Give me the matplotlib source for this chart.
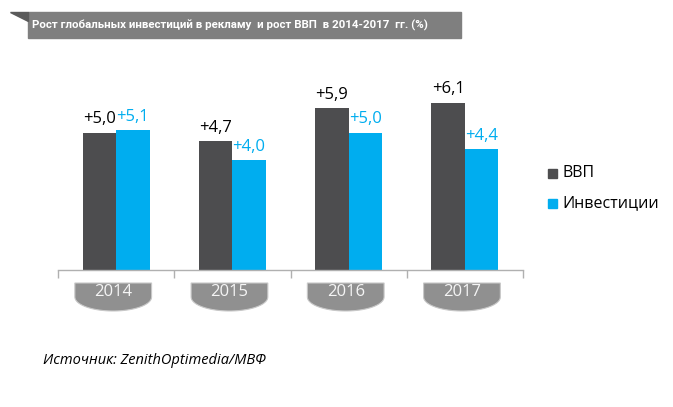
import numpy as np
import matplotlib.pyplot as plt
import matplotlib.patches as mpatches
import matplotlib.transforms as mtransforms

years = ["2014", "2015", "2016", "2017"]
gdp = [5.0, 4.7, 5.9, 6.1]
invest = [5.1, 4.0, 5.0, 4.4]
gdp_labels = ["+5,0", "+4,7", "+5,9", "+6,1"]
invest_labels = ["+5,1", "+4,0", "+5,0", "+4,4"]

title = "Рост глобальных инвестиций в рекламу  и рост ВВП  в 2014-2017  гг. (%)"
source = "Источник: ZenithOptimedia/МВФ"

c_gdp = "#4d4d4f"
c_inv = "#00adef"

W, H = 673, 407
fig = plt.figure(figsize=(W / 100, H / 100), dpi=100)
plt.rcParams['font.family'] = ['Open Sans', 'DejaVu Sans']

def fx(px):
    return px / W

def fy(py):
    return 1 - py / H

ax = fig.add_axes([fx(58), fy(270), fx(523) - fx(58), fy(78) - fy(270)])
x = np.arange(len(years)) + 0.5
bw = 0.288
ax.bar(x - bw / 2, gdp, bw, color=c_gdp, label="ВВП")
ax.bar(x + bw / 2, invest, bw, color=c_inv, label="Инвестиции")

for i in range(len(years)):
    ax.annotate(gdp_labels[i], (x[i] - bw / 2, gdp[i]), xytext=(0, 4),
                textcoords="offset points", ha="center", va="bottom",
                fontsize=12, color="black")
    ax.annotate(invest_labels[i], (x[i] + bw / 2, invest[i]), xytext=(0, 4),
                textcoords="offset points", ha="center", va="bottom",
                fontsize=12, color=c_inv)

ax.set_xlim(0, 4)
ax.set_ylim(0, 7)
for s in ["top", "right", "left"]:
    ax.spines[s].set_visible(False)
ax.spines["bottom"].set_color("#b0b0b0")
ax.spines["bottom"].set_linewidth(1.0)
ax.set_yticks([])
ax.set_xticks(np.arange(len(years) + 1))
ax.set_xticklabels([])
ax.tick_params(axis="x", length=6, color="#b0b0b0", width=1.0)

# year badges under the axis
tr = mtransforms.blended_transform_factory(ax.transData, fig.transFigure)
half_w = 0.33
top, mid, bot = fy(283), fy(297), fy(311)
for i, yr in enumerate(years):
    cx = x[i] - 0.025
    ell_x = cx + half_w * np.cos(np.linspace(0, np.pi, 40))
    ell_y = mid - (mid - bot) * np.sin(np.linspace(0, np.pi, 40))
    px = [cx - half_w, cx + half_w] + list(ell_x)
    py = [top, top] + list(ell_y)
    poly = mpatches.Polygon(list(zip(px, py)), closed=True, transform=tr,
                            facecolor="#909090", edgecolor="#c8c8c8", lw=0.8,
                            clip_on=False)
    fig.add_artist(poly)
    fig.text(cx, fy(292), yr, transform=tr, ha="center", va="center",
             fontsize=12, color="#f5f5f5")

# legend
fig.add_artist(mpatches.Rectangle((fx(548), fy(178)), fx(9), fy(169) - fy(178),
                                  transform=fig.transFigure, color=c_gdp))
fig.add_artist(mpatches.Rectangle((fx(548), fy(208)), fx(9), fy(199) - fy(208),
                                  transform=fig.transFigure, color=c_inv))
fig.text(fx(562), fy(173.5), "ВВП", ha="left", va="center", fontsize=11.5)
fig.text(fx(562), fy(203.5), "Инвестиции", ha="left", va="center", fontsize=11.5)

# title banner
fig.add_artist(mpatches.Rectangle((fx(28), fy(38)), fx(461) - fx(28), fy(12) - fy(38),
                                  transform=fig.transFigure, color="#7f7f7f"))
fig.add_artist(mpatches.Polygon([(fx(10), fy(12)), (fx(28), fy(12)), (fx(28), fy(21))],
                                closed=True, transform=fig.transFigure, color="#5a5a5a"))
ttl = fig.text(fx(32), fy(25), title, ha="left", va="center", fontsize=10,
               fontweight="bold", color="white", family=['Roboto', 'DejaVu Sans'])
fig.canvas.draw()
wpx = ttl.get_window_extent(fig.canvas.get_renderer()).width
if wpx > 395:
    ttl.set_fontsize(10 * 395 / wpx)

fig.text(fx(43), fy(361), source, ha="left", va="center", fontsize=10.5,
         style="italic", color="black")

fig.savefig("out.png", dpi=100)
